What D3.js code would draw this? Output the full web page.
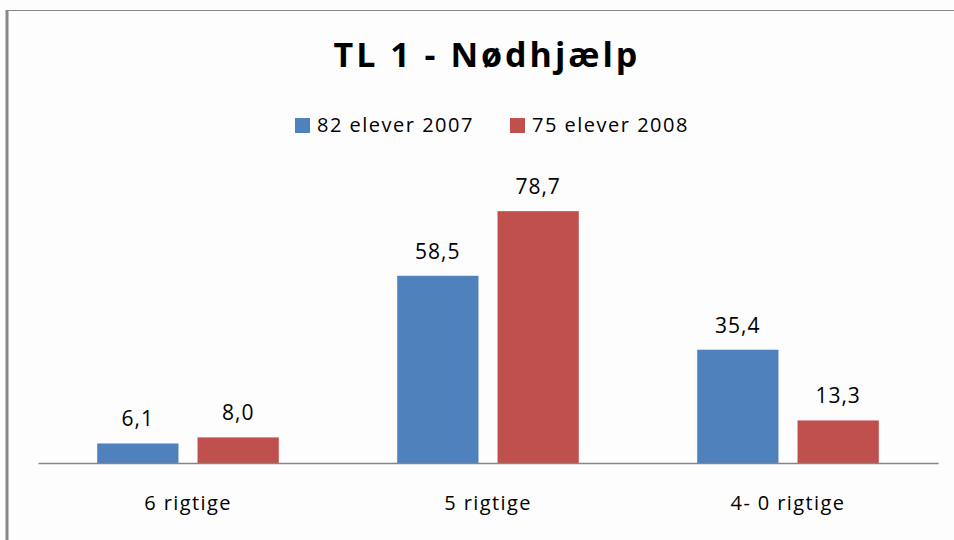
<!DOCTYPE html>
<html>
<head>
<meta charset="utf-8">
<script src="https://cdn.jsdelivr.net/npm/d3@7"></script>
<style>
  body { margin: 0; background: #fdfdfd; }
  #chart { width: 954px; height: 540px; }
  text { font-family: "Open Sans", sans-serif; fill: #000; }
</style>
</head>
<body>
<div id="chart"></div>
<script>
// data
const categories = ["6 rigtige", "5 rigtige", "4- 0 rigtige"];
const seriesNames = ["82 elever 2007", "75 elever 2008"];
const values2007 = [6.1, 58.5, 35.4];
const values2008 = [8.0, 78.7, 13.3];
const colors = ["#4f81bd", "#c0504d"];

const width = document.querySelector("#chart").clientWidth;
const height = document.querySelector("#chart").clientHeight;

const svg = d3.select("#chart")
    .append("svg")
    .attr("width", width)
    .attr("height", height);

// frame (left + top border)
svg.append("line")
    .attr("x1", 7).attr("x2", 7).attr("y1", 10).attr("y2", height)
    .attr("stroke", "#878787").attr("stroke-width", 3);
svg.append("line")
    .attr("x1", 6).attr("x2", width).attr("y1", 10.5).attr("y2", 10.5)
    .attr("stroke", "#878787").attr("stroke-width", 1);

const margin = {top: 175, left: 38, right: 16, bottom: 77};

const xScale = d3.scaleBand()
    .domain(categories)
    .range([margin.left, width - margin.right])
    .paddingInner(0)
    .paddingOuter(0);

const xInner = d3.scaleBand()
    .domain(seriesNames)
    .range([0, xScale.bandwidth()])
    .paddingInner(0.19)
    .paddingOuter(0.59);

const yScale = d3.scaleLinear()
    .domain([0, 90])
    .range([height - margin.bottom, height - margin.bottom - 288]);

// build rows
const rows = [];
categories.forEach(function(c, i) {
    rows.push({cat: c, series: seriesNames[0], value: values2007[i], color: colors[0]});
    rows.push({cat: c, series: seriesNames[1], value: values2008[i], color: colors[1]});
});

// bars
svg.selectAll("rect.bar")
    .data(rows)
    .enter()
    .append("rect")
        .attr("class", "bar")
        .attr("x", function(d) { return xScale(d.cat) + xInner(d.series); })
        .attr("y", function(d) { return yScale(d.value); })
        .attr("width", xInner.bandwidth())
        .attr("height", function(d) { return yScale(0) - yScale(d.value); })
        .attr("fill", function(d) { return d.color; });

// value labels
svg.selectAll("text.val")
    .data(rows)
    .enter()
    .append("text")
        .attr("class", "val")
        .attr("x", function(d) { return xScale(d.cat) + xInner(d.series) + xInner.bandwidth() / 2; })
        .attr("y", function(d) { return yScale(d.value) - 17; })
        .attr("text-anchor", "middle")
        .style("font-size", "21px")
        .style("letter-spacing", "1px")
        .text(function(d) { return d.value.toFixed(1).replace(".", ","); });

// x axis (baseline + category labels)
const xAxis = svg.append("g")
    .attr("transform", `translate(0,${yScale(0)})`)
    .call(d3.axisBottom(xScale).tickSize(0).tickPadding(0));
xAxis.select(".domain").attr("stroke", "#868686").attr("stroke-width", 1.5);
xAxis.selectAll("text")
    .attr("dy", 0)
    .attr("y", 47)
    .style("font-size", "20px")
    .style("letter-spacing", "1.4px")
    .style("font-family", "'Open Sans', sans-serif")
    .attr("fill", "#000");

// title
svg.append("text")
    .attr("x", 487)
    .attr("y", 67)
    .attr("text-anchor", "middle")
    .style("font-size", "34px")
    .style("font-weight", "bold")
    .style("letter-spacing", "3px")
    .text("TL 1 - Nødhjælp");

// legend
const legendX = [295, 510];
const legend = svg.selectAll("g.legend")
    .data(seriesNames)
    .enter()
    .append("g")
        .attr("class", "legend")
        .attr("transform", function(d, i) { return `translate(${legendX[i]},118)`; });
legend.append("rect")
    .attr("width", 15).attr("height", 15)
    .attr("fill", function(d, i) { return colors[i]; });
legend.append("text")
    .attr("x", 22)
    .attr("y", 14)
    .style("font-size", "20px")
    .style("letter-spacing", "1.5px")
    .text(function(d) { return d; });
</script>
</body>
</html>
